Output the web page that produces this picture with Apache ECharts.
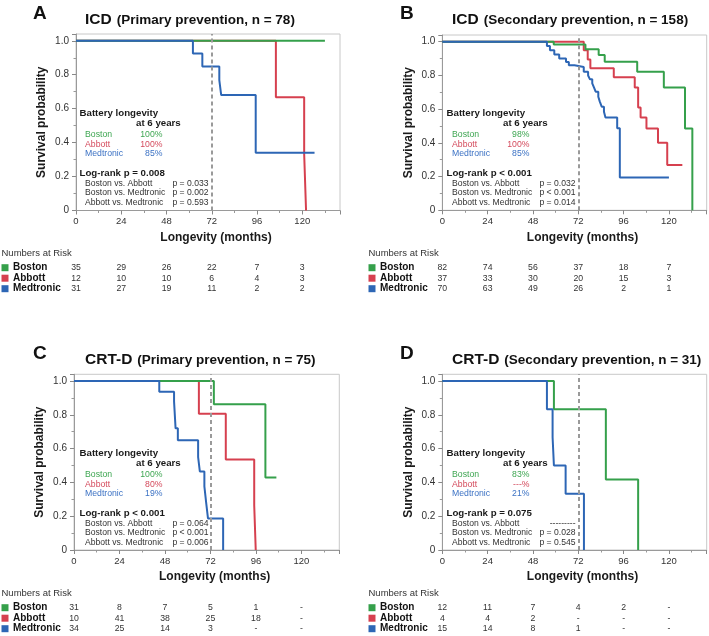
<!DOCTYPE html>
<html>
<head>
<meta charset="utf-8">
<script src="https://cdn.jsdelivr.net/npm/echarts@6/dist/echarts.min.js"></script>
<style>
html, body { margin: 0; padding: 0; background: #fff; }
#main { width: 709px; height: 636px; }
</style>
</head>
<body>
<div id="main"></div>
<script>
'use strict';

// survival curves, [month, survival]
var icdPrimBoston = [[0, 1], [132, 1]];
var icdPrimAbbott = [[0, 1], [106, 0.667], [121, 0.333], [122, 0]];
var icdPrimMedtronic = [[0, 1], [62, 0.925], [67, 0.848], [76, 0.768], [77, 0.68], [95.3, 0.34], [126.5, 0.34]];

var icdSecBoston = [[0, 1], [59, 0.984], [75.8, 0.955], [82.8, 0.922], [86, 0.881], [103.2, 0.822], [117.3, 0.729], [128.5, 0.486], [132.4, 0]];
var icdSecAbbott = [[0, 1], [74.9, 0.95], [77, 0.895], [78.4, 0.842], [90.8, 0.789], [101.9, 0.729], [103.7, 0.61], [105, 0.55], [108.1, 0.486], [114.2, 0.401], [119.1, 0.269], [127.1, 0.269]];
var icdSecMedtronic = [[0, 1], [55.4, 0.975], [57, 0.95], [59.3, 0.925], [61.9, 0.9], [65.5, 0.88], [67, 0.86], [70, 0.85], [74.9, 0.822], [77.2, 0.8], [78.2, 0.777], [79.4, 0.753], [80.3, 0.729], [81.2, 0.704], [82.6, 0.674], [83.4, 0.645], [84.4, 0.615], [85.6, 0.585], [86.4, 0.55], [92.6, 0.487], [94, 0.194], [120, 0.194]];

var crtPrimBoston = [[0, 1], [73.8, 0.862], [101, 0.429], [106.8, 0.429]];
var crtPrimAbbott = [[0, 1], [65.9, 0.806], [80.1, 0.535], [95.1, 0.265], [95.9, 0]];
var crtPrimMedtronic = [[0, 1], [45, 0.937], [52.8, 0.88], [53.6, 0.72], [54.8, 0.65], [65.5, 0.55], [66.4, 0.465], [68.8, 0.376], [69.8, 0.275], [70.7, 0.187], [78.7, 0]];

var crtSecBoston = [[0, 1], [59.1, 0.833], [86.6, 0.417], [103.7, 0]];
var crtSecAbbott = [[0, 1], [55, 1]];
var crtSecMedtronic = [[0, 1], [55.4, 0.833], [58.4, 0.667], [59.1, 0.5], [65.3, 0.333], [75, 0]];

// numbers at risk
var riskMonths = [0, 24, 48, 72, 96, 120];
var icdPrimRisk = [[35, 29, 26, 22, 7, 3], [12, 10, 10, 6, 4, 3], [31, 27, 19, 11, 2, 2]];
var icdSecRisk = [[82, 74, 56, 37, 18, 7], [37, 33, 30, 20, 15, 3], [70, 63, 49, 26, 2, 1]];
var crtPrimRisk = [[31, 8, 7, 5, 1, '-'], [10, 41, 38, 25, 18, '-'], [34, 25, 14, 3, '-', '-']];
var crtSecRisk = [[12, 11, 7, 4, 2, '-'], [4, 4, 2, '-', '-', '-'], [15, 14, 8, 1, '-', '-']];

// battery longevity at 6 years & p values
var icdPrimLongevity = ['100%', '100%', '85%'];
var icdSecLongevity = ['98%', '100%', '85%'];
var crtPrimLongevity = ['100%', '80%', '19%'];
var crtSecLongevity = ['83%', '---%', '21%'];
var icdPrimP = ['p = 0.008', 'p = 0.033', 'p = 0.002', 'p = 0.593'];
var icdSecP = ['p < 0.001', 'p = 0.032', 'p < 0.001', 'p = 0.014'];
var crtPrimP = ['p < 0.001', 'p = 0.064', 'p < 0.001', 'p = 0.006'];
var crtSecP = ['p = 0.075', '---------', 'p = 0.028', 'p = 0.545'];

var brands = ['Boston', 'Abbott', 'Medtronic'];
var pairNames = ['Boston vs. Abbott', 'Boston vs. Medtronic', 'Abbott vs. Medtronic'];

var lineColors = { Boston: '#35a04b', Abbott: '#d6404f', Medtronic: '#2d66b5' };
var textColors = { Boston: '#3ea652', Abbott: '#d44a5c', Medtronic: '#3c72c4' };
var fontFam = '"Liberation Sans", Arial, Helvetica, sans-serif';

var panels = [
    { letter: 'A', device: 'ICD', title: '(Primary prevention, n = 78)', px: 0, py: 0,
      grid: { left: 76, top: 34, width: 264, height: 176.5 },
      curves: [icdPrimBoston, icdPrimAbbott, icdPrimMedtronic], risk: icdPrimRisk, longevity: icdPrimLongevity, p: icdPrimP },
    { letter: 'B', device: 'ICD', title: '(Secondary prevention, n = 158)', px: 367, py: 0,
      grid: { left: 442.3, top: 35, width: 264.4, height: 175.3 },
      curves: [icdSecBoston, icdSecAbbott, icdSecMedtronic], risk: icdSecRisk, longevity: icdSecLongevity, p: icdSecP },
    { letter: 'C', device: 'CRT-D', title: '(Primary prevention, n = 75)', px: 0, py: 340,
      grid: { left: 74, top: 374.3, width: 265.3, height: 175.7 },
      curves: [crtPrimBoston, crtPrimAbbott, crtPrimMedtronic], risk: crtPrimRisk, longevity: crtPrimLongevity, p: crtPrimP },
    { letter: 'D', device: 'CRT-D', title: '(Secondary prevention, n = 31)', px: 367, py: 340,
      grid: { left: 442.3, top: 374.3, width: 264.4, height: 175.7 },
      curves: [crtSecBoston, crtSecAbbott, crtSecMedtronic], risk: crtSecRisk, longevity: crtSecLongevity, p: crtSecP }
];

var chart = echarts.init(document.getElementById('main'), null, { renderer: 'canvas' });

var grids = [], xAxes = [], yAxes = [], series = [], titles = [];

panels.forEach(function(p, i) {
    grids.push({
        left: p.grid.left, top: p.grid.top, width: p.grid.width, height: p.grid.height,
        show: true, borderColor: '#c8c8c8', borderWidth: 1, outerBoundsMode: 'none'
    });
    xAxes.push({
        type: 'value', gridIndex: i, min: 0, max: 140, interval: 24,
        axisLine: { onZero: false, lineStyle: { color: '#9a9a9a' } },
        axisTick: { length: 4, lineStyle: { color: '#888' } },
        minorTick: { show: true, splitNumber: 2, length: 2.5, lineStyle: { color: '#999' } },
        splitLine: { show: false },
        axisLabel: { showMaxLabel: false, fontSize: 9.5, color: '#333', margin: 6, fontFamily: fontFam },
        name: 'Longevity (months)', nameLocation: 'middle', nameGap: 21,
        nameTextStyle: { fontWeight: 'bold', fontSize: 12, color: '#1a1a1a', fontFamily: fontFam, padding: [0, 0, 0, 16] }
    });
    yAxes.push({
        type: 'value', gridIndex: i, min: 0, max: 1.04, interval: 0.2,
        axisLine: { show: true, lineStyle: { color: '#9a9a9a' } },
        axisTick: { show: true, length: 4, lineStyle: { color: '#888' } },
        minorTick: { show: true, splitNumber: 2, length: 2.5, lineStyle: { color: '#999' } },
        splitLine: { show: false },
        axisLabel: {
            showMaxLabel: false, fontSize: 10, color: '#333', margin: 7, fontFamily: fontFam,
            formatter: function(v) { return v === 0 ? '0' : v.toFixed(1); }
        },
        name: 'Survival probability', nameLocation: 'middle', nameGap: 28,
        nameTextStyle: { fontWeight: 'bold', fontSize: 12, color: '#1a1a1a', fontFamily: fontFam }
    });
    // draw order: Abbott under Boston under Medtronic
    [1, 0, 2].forEach(function(k, n) {
        var s = {
            type: 'line', xAxisIndex: i, yAxisIndex: i, name: brands[k],
            data: p.curves[k], step: 'end', showSymbol: false, symbol: 'none', silent: true,
            lineStyle: { color: lineColors[brands[k]], width: 2 }
        };
        if (n === 2) {
            s.markLine = {
                symbol: 'none', silent: true, label: { show: false },
                lineStyle: { type: [4, 3], color: '#9a9a9a', width: 2 },
                data: [{ xAxis: 72 }]
            };
        }
        series.push(s);
    });
    titles.push({
        text: '{a|' + p.device + '} {b|' + p.title + '}',
        left: p.px + 85, top: p.py + 11, padding: 0,
        textStyle: {
            rich: {
                a: { fontSize: 15.5, fontWeight: 'bold', color: '#111', fontFamily: fontFam, lineHeight: 18 },
                b: { fontSize: 13.5, fontWeight: 'bold', color: '#111', fontFamily: fontFam, lineHeight: 18 }
            }
        }
    });
});

chart.setOption({
    animation: false,
    backgroundColor: '#fff',
    title: titles,
    grid: grids,
    xAxis: xAxes,
    yAxis: yAxes,
    series: series
});

// 注释文字和风险表
function txt(x, y, s, font, fill, align) {
    return {
        type: 'text', x: x, y: y, silent: true,
        style: {
            text: s, font: font + ' ' + fontFam, fill: fill,
            textAlign: align || 'left', align: align || 'left',
            textVerticalAlign: 'middle', verticalAlign: 'middle'
        }
    };
}

var g = [];
panels.forEach(function(p, i) {
    var px = p.px, py = p.py;
    g.push(txt(px + 33, py + 13.5, p.letter, 'bold 19px', '#111'));

    g.push(txt(px + 79.5, py + 113.3, 'Battery longevity', 'bold 9.7px', '#1a1a1a'));
    g.push(txt(px + 136, py + 123.8, 'at 6 years', 'bold 9.7px', '#1a1a1a'));
    brands.forEach(function(b, k) {
        var y = py + 135 + k * 9.35;
        g.push(txt(px + 85, y, b, '8.7px', textColors[b]));
        g.push(txt(px + 162.5, y, p.longevity[k], '8.7px', textColors[b], 'right'));
    });
    g.push(txt(px + 79.5, py + 173.6, 'Log-rank ' + p.p[0], 'bold 9.7px', '#1a1a1a'));
    pairNames.forEach(function(n, k) {
        var y = py + 183.6 + k * 9.5;
        g.push(txt(px + 85, y, n, '8.6px', '#333'));
        g.push(txt(px + 208.5, y, p.p[k + 1], '8.6px', '#333', 'right'));
    });

    g.push(txt(px + 1.5, py + 253, 'Numbers at Risk', '9.5px', '#333'));
    brands.forEach(function(b, k) {
        var y = py + 267.7 + k * 10.5;
        g.push({ type: 'rect', silent: true, shape: { x: px + 1.5, y: y - 3.5, width: 7, height: 7 }, style: { fill: lineColors[b] } });
        g.push(txt(px + 13, y, b, 'bold 10px', '#111'));
        p.risk[k].forEach(function(v, j) {
            var x = chart.convertToPixel({ xAxisIndex: i }, riskMonths[j]);
            g.push(txt(x, y, String(v), '8.7px', '#333', 'center'));
        });
    });
});

chart.setOption({ graphic: g });
</script>
</body>
</html>
